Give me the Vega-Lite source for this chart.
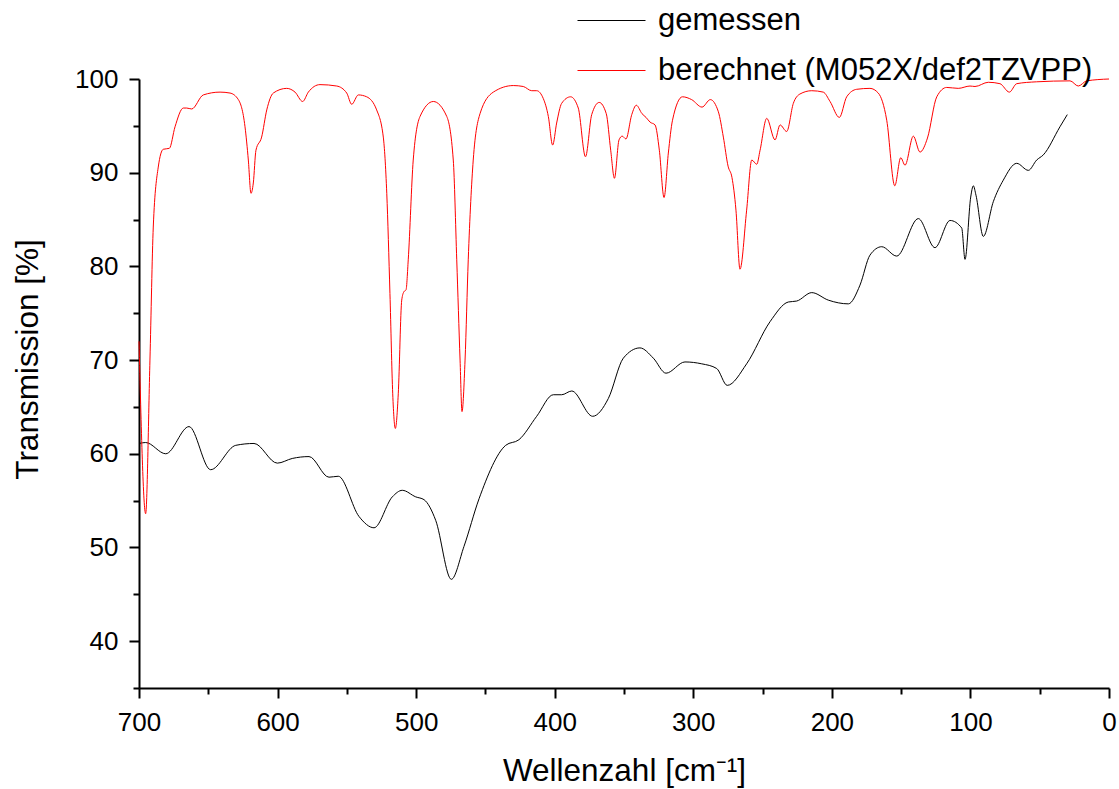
{
  "$schema": "https://vega.github.io/schema/vega-lite/v6.json",
  "autosize": "none",
  "width": 970,
  "height": 609,
  "padding": {"left": 139, "top": 79, "right": 10, "bottom": 101},
  "background": "white",
  "config": {
    "view": {"stroke": null},
    "font": "Liberation Sans",
    "axis": {
      "domainColor": "black", "domainWidth": 2, "tickColor": "black", "tickWidth": 2,
      "grid": false, "labelColor": "black", "titleColor": "black",
      "labelFont": "Liberation Sans", "labelFontSize": 26, "titleFont": "Liberation Sans",
      "titleFontSize": 31.5, "titleFontWeight": "normal", "labelPadding": 11
    }
  },
  "data": {"values": [
    {"x":700,"y":61.1,"s":"gemessen"},{"x":695.2,"y":61.2,"s":"gemessen"},{"x":680.7,"y":60.0,"s":"gemessen"},{"x":663.9,"y":62.9,"s":"gemessen"},{"x":648.3,"y":58.3,"s":"gemessen"},{"x":630.2,"y":60.9,"s":"gemessen"},{"x":617.0,"y":61.1,"s":"gemessen"},{"x":600.2,"y":59.0,"s":"gemessen"},{"x":589.4,"y":59.5,"s":"gemessen"},{"x":577.3,"y":59.7,"s":"gemessen"},{"x":562.9,"y":57.5,"s":"gemessen"},{"x":556.2,"y":57.6,"s":"gemessen"},{"x":541.2,"y":53.3,"s":"gemessen"},{"x":530.4,"y":52.1,"s":"gemessen"},{"x":517.2,"y":55.4,"s":"gemessen"},{"x":510.0,"y":56.1,"s":"gemessen"},{"x":500.3,"y":55.4,"s":"gemessen"},{"x":494.3,"y":55.1,"s":"gemessen"},{"x":485.9,"y":52.9,"s":"gemessen"},{"x":474.6,"y":46.6,"s":"gemessen"},{"x":465.5,"y":50.1,"s":"gemessen"},{"x":454.6,"y":55.2,"s":"gemessen"},{"x":435.4,"y":60.9,"s":"gemessen"},{"x":425.8,"y":61.5,"s":"gemessen"},{"x":413.0,"y":64.0,"s":"gemessen"},{"x":401.0,"y":66.3,"s":"gemessen"},{"x":395.0,"y":66.3,"s":"gemessen"},{"x":387.7,"y":66.7,"s":"gemessen"},{"x":372.6,"y":64.0,"s":"gemessen"},{"x":361.3,"y":65.9,"s":"gemessen"},{"x":350.5,"y":70.2,"s":"gemessen"},{"x":338.5,"y":71.3,"s":"gemessen"},{"x":328.8,"y":70.2,"s":"gemessen"},{"x":319.7,"y":68.6,"s":"gemessen"},{"x":306.0,"y":69.8,"s":"gemessen"},{"x":293.9,"y":69.6,"s":"gemessen"},{"x":283.1,"y":69.1,"s":"gemessen"},{"x":275.5,"y":67.3,"s":"gemessen"},{"x":261.5,"y":69.6,"s":"gemessen"},{"x":244.6,"y":74.1,"s":"gemessen"},{"x":231.4,"y":76.2,"s":"gemessen"},{"x":225.4,"y":76.3,"s":"gemessen"},{"x":214.5,"y":77.2,"s":"gemessen"},{"x":202.6,"y":76.4,"s":"gemessen"},{"x":188.1,"y":76.0,"s":"gemessen"},{"x":179.7,"y":78.0,"s":"gemessen"},{"x":172.5,"y":81.2,"s":"gemessen"},{"x":164.0,"y":82.1,"s":"gemessen"},{"x":153.2,"y":81.1,"s":"gemessen"},{"x":137.6,"y":85.1,"s":"gemessen"},{"x":125.6,"y":82.0,"s":"gemessen"},{"x":114.7,"y":84.9,"s":"gemessen"},{"x":106.3,"y":84.1,"s":"gemessen"},{"x":103.9,"y":80.75,"s":"gemessen"},{"x":99.8,"y":87.4,"s":"gemessen"},{"x":97.9,"y":88.6,"s":"gemessen"},{"x":96.0,"y":87.6,"s":"gemessen"},{"x":90.7,"y":83.2,"s":"gemessen"},{"x":83.5,"y":86.9,"s":"gemessen"},{"x":76.3,"y":89.2,"s":"gemessen"},{"x":66.6,"y":91.0,"s":"gemessen"},{"x":58.2,"y":90.25,"s":"gemessen"},{"x":52.2,"y":91.35,"s":"gemessen"},{"x":47.4,"y":91.9,"s":"gemessen"},{"x":35.4,"y":94.9,"s":"gemessen"},{"x":30.1,"y":96.2,"s":"gemessen"},
    {"x":700,"y":72.0,"s":"berechnet (M052X/def2TZVPP)"},{"x":695.2,"y":53.6,"s":"berechnet (M052X/def2TZVPP)"},{"x":692.1,"y":70.0,"s":"berechnet (M052X/def2TZVPP)"},{"x":689.7,"y":84.2,"s":"berechnet (M052X/def2TZVPP)"},{"x":686.1,"y":90.6,"s":"berechnet (M052X/def2TZVPP)"},{"x":682.5,"y":92.5,"s":"berechnet (M052X/def2TZVPP)"},{"x":678.1,"y":92.6,"s":"berechnet (M052X/def2TZVPP)"},{"x":674.0,"y":94.9,"s":"berechnet (M052X/def2TZVPP)"},{"x":668.0,"y":96.9,"s":"berechnet (M052X/def2TZVPP)"},{"x":665.6,"y":96.9,"s":"berechnet (M052X/def2TZVPP)"},{"x":662.0,"y":96.8,"s":"berechnet (M052X/def2TZVPP)"},{"x":653.6,"y":98.3,"s":"berechnet (M052X/def2TZVPP)"},{"x":641.5,"y":98.6,"s":"berechnet (M052X/def2TZVPP)"},{"x":634.3,"y":98.5,"s":"berechnet (M052X/def2TZVPP)"},{"x":628.3,"y":97.8,"s":"berechnet (M052X/def2TZVPP)"},{"x":623.5,"y":94.9,"s":"berechnet (M052X/def2TZVPP)"},{"x":621.1,"y":91.35,"s":"berechnet (M052X/def2TZVPP)"},{"x":619.2,"y":87.8,"s":"berechnet (M052X/def2TZVPP)"},{"x":617.5,"y":88.9,"s":"berechnet (M052X/def2TZVPP)"},{"x":615.6,"y":92.4,"s":"berechnet (M052X/def2TZVPP)"},{"x":611.5,"y":93.8,"s":"berechnet (M052X/def2TZVPP)"},{"x":607.8,"y":96.7,"s":"berechnet (M052X/def2TZVPP)"},{"x":603.1,"y":98.5,"s":"berechnet (M052X/def2TZVPP)"},{"x":593.4,"y":99.0,"s":"berechnet (M052X/def2TZVPP)"},{"x":587.4,"y":98.6,"s":"berechnet (M052X/def2TZVPP)"},{"x":581.9,"y":97.6,"s":"berechnet (M052X/def2TZVPP)"},{"x":577.8,"y":98.6,"s":"berechnet (M052X/def2TZVPP)"},{"x":569.4,"y":99.4,"s":"berechnet (M052X/def2TZVPP)"},{"x":557.3,"y":99.25,"s":"berechnet (M052X/def2TZVPP)"},{"x":550.1,"y":98.5,"s":"berechnet (M052X/def2TZVPP)"},{"x":546.5,"y":97.3,"s":"berechnet (M052X/def2TZVPP)"},{"x":541.7,"y":98.3,"s":"berechnet (M052X/def2TZVPP)"},{"x":535.7,"y":98.1,"s":"berechnet (M052X/def2TZVPP)"},{"x":528.5,"y":96.7,"s":"berechnet (M052X/def2TZVPP)"},{"x":523.7,"y":93.8,"s":"berechnet (M052X/def2TZVPP)"},{"x":521.2,"y":87.8,"s":"berechnet (M052X/def2TZVPP)"},{"x":518.9,"y":77.1,"s":"berechnet (M052X/def2TZVPP)"},{"x":516.9,"y":66.4,"s":"berechnet (M052X/def2TZVPP)"},{"x":515.0,"y":62.7,"s":"berechnet (M052X/def2TZVPP)"},{"x":512.9,"y":66.4,"s":"berechnet (M052X/def2TZVPP)"},{"x":510.4,"y":76.4,"s":"berechnet (M052X/def2TZVPP)"},{"x":508.8,"y":77.3,"s":"berechnet (M052X/def2TZVPP)"},{"x":507.3,"y":77.5,"s":"berechnet (M052X/def2TZVPP)"},{"x":505.7,"y":80.7,"s":"berechnet (M052X/def2TZVPP)"},{"x":502.1,"y":91.35,"s":"berechnet (M052X/def2TZVPP)"},{"x":497.2,"y":96.0,"s":"berechnet (M052X/def2TZVPP)"},{"x":487.6,"y":97.6,"s":"berechnet (M052X/def2TZVPP)"},{"x":477.9,"y":96.0,"s":"berechnet (M052X/def2TZVPP)"},{"x":473.2,"y":91.35,"s":"berechnet (M052X/def2TZVPP)"},{"x":470.7,"y":80.7,"s":"berechnet (M052X/def2TZVPP)"},{"x":468.3,"y":70.0,"s":"berechnet (M052X/def2TZVPP)"},{"x":466.9,"y":64.5,"s":"berechnet (M052X/def2TZVPP)"},{"x":464.7,"y":70.0,"s":"berechnet (M052X/def2TZVPP)"},{"x":462.4,"y":80.7,"s":"berechnet (M052X/def2TZVPP)"},{"x":458.8,"y":91.35,"s":"berechnet (M052X/def2TZVPP)"},{"x":453.9,"y":96.3,"s":"berechnet (M052X/def2TZVPP)"},{"x":444.3,"y":98.6,"s":"berechnet (M052X/def2TZVPP)"},{"x":429.9,"y":99.3,"s":"berechnet (M052X/def2TZVPP)"},{"x":422.7,"y":99.2,"s":"berechnet (M052X/def2TZVPP)"},{"x":416.6,"y":98.75,"s":"berechnet (M052X/def2TZVPP)"},{"x":413.0,"y":98.75,"s":"berechnet (M052X/def2TZVPP)"},{"x":408.2,"y":97.9,"s":"berechnet (M052X/def2TZVPP)"},{"x":404.6,"y":96.0,"s":"berechnet (M052X/def2TZVPP)"},{"x":401.5,"y":92.95,"s":"berechnet (M052X/def2TZVPP)"},{"x":398.6,"y":95.3,"s":"berechnet (M052X/def2TZVPP)"},{"x":395.0,"y":97.4,"s":"berechnet (M052X/def2TZVPP)"},{"x":388.5,"y":98.1,"s":"berechnet (M052X/def2TZVPP)"},{"x":383.0,"y":96.9,"s":"berechnet (M052X/def2TZVPP)"},{"x":377.8,"y":91.7,"s":"berechnet (M052X/def2TZVPP)"},{"x":373.3,"y":96.2,"s":"berechnet (M052X/def2TZVPP)"},{"x":367.9,"y":97.5,"s":"berechnet (M052X/def2TZVPP)"},{"x":362.8,"y":96.3,"s":"berechnet (M052X/def2TZVPP)"},{"x":359.6,"y":92.4,"s":"berechnet (M052X/def2TZVPP)"},{"x":356.9,"y":89.4,"s":"berechnet (M052X/def2TZVPP)"},{"x":353.6,"y":93.5,"s":"berechnet (M052X/def2TZVPP)"},{"x":351.3,"y":93.9,"s":"berechnet (M052X/def2TZVPP)"},{"x":348.6,"y":93.6,"s":"berechnet (M052X/def2TZVPP)"},{"x":344.4,"y":96.2,"s":"berechnet (M052X/def2TZVPP)"},{"x":341.1,"y":97.2,"s":"berechnet (M052X/def2TZVPP)"},{"x":337.0,"y":96.3,"s":"berechnet (M052X/def2TZVPP)"},{"x":334.1,"y":95.9,"s":"berechnet (M052X/def2TZVPP)"},{"x":331.2,"y":95.4,"s":"berechnet (M052X/def2TZVPP)"},{"x":327.6,"y":95.1,"s":"berechnet (M052X/def2TZVPP)"},{"x":324.5,"y":92.4,"s":"berechnet (M052X/def2TZVPP)"},{"x":321.1,"y":87.35,"s":"berechnet (M052X/def2TZVPP)"},{"x":318.0,"y":92.1,"s":"berechnet (M052X/def2TZVPP)"},{"x":315.0,"y":95.6,"s":"berechnet (M052X/def2TZVPP)"},{"x":307.8,"y":98.1,"s":"berechnet (M052X/def2TZVPP)"},{"x":301.2,"y":97.8,"s":"berechnet (M052X/def2TZVPP)"},{"x":293.7,"y":97.0,"s":"berechnet (M052X/def2TZVPP)"},{"x":287.7,"y":97.8,"s":"berechnet (M052X/def2TZVPP)"},{"x":281.9,"y":96.5,"s":"berechnet (M052X/def2TZVPP)"},{"x":278.3,"y":93.8,"s":"berechnet (M052X/def2TZVPP)"},{"x":274.9,"y":90.7,"s":"berechnet (M052X/def2TZVPP)"},{"x":272.1,"y":89.5,"s":"berechnet (M052X/def2TZVPP)"},{"x":269.2,"y":86.0,"s":"berechnet (M052X/def2TZVPP)"},{"x":266.3,"y":79.7,"s":"berechnet (M052X/def2TZVPP)"},{"x":261.5,"y":86.0,"s":"berechnet (M052X/def2TZVPP)"},{"x":257.8,"y":91.35,"s":"berechnet (M052X/def2TZVPP)"},{"x":254.2,"y":90.9,"s":"berechnet (M052X/def2TZVPP)"},{"x":251.8,"y":92.4,"s":"berechnet (M052X/def2TZVPP)"},{"x":247.0,"y":95.8,"s":"berechnet (M052X/def2TZVPP)"},{"x":241.0,"y":93.5,"s":"berechnet (M052X/def2TZVPP)"},{"x":237.4,"y":95.1,"s":"berechnet (M052X/def2TZVPP)"},{"x":232.6,"y":94.4,"s":"berechnet (M052X/def2TZVPP)"},{"x":227.8,"y":97.4,"s":"berechnet (M052X/def2TZVPP)"},{"x":223.0,"y":98.4,"s":"berechnet (M052X/def2TZVPP)"},{"x":214.5,"y":98.75,"s":"berechnet (M052X/def2TZVPP)"},{"x":206.2,"y":98.6,"s":"berechnet (M052X/def2TZVPP)"},{"x":201.3,"y":97.6,"s":"berechnet (M052X/def2TZVPP)"},{"x":194.6,"y":95.9,"s":"berechnet (M052X/def2TZVPP)"},{"x":189.3,"y":98.1,"s":"berechnet (M052X/def2TZVPP)"},{"x":182.1,"y":98.9,"s":"berechnet (M052X/def2TZVPP)"},{"x":172.5,"y":99.0,"s":"berechnet (M052X/def2TZVPP)"},{"x":166.5,"y":98.5,"s":"berechnet (M052X/def2TZVPP)"},{"x":160.4,"y":95.6,"s":"berechnet (M052X/def2TZVPP)"},{"x":154.6,"y":88.6,"s":"berechnet (M052X/def2TZVPP)"},{"x":150.3,"y":91.6,"s":"berechnet (M052X/def2TZVPP)"},{"x":147.2,"y":90.8,"s":"berechnet (M052X/def2TZVPP)"},{"x":141.2,"y":93.9,"s":"berechnet (M052X/def2TZVPP)"},{"x":136.4,"y":92.2,"s":"berechnet (M052X/def2TZVPP)"},{"x":131.0,"y":93.7,"s":"berechnet (M052X/def2TZVPP)"},{"x":124.3,"y":98.1,"s":"berechnet (M052X/def2TZVPP)"},{"x":117.1,"y":99.1,"s":"berechnet (M052X/def2TZVPP)"},{"x":108.8,"y":99.0,"s":"berechnet (M052X/def2TZVPP)"},{"x":100.3,"y":99.25,"s":"berechnet (M052X/def2TZVPP)"},{"x":96.7,"y":99.2,"s":"berechnet (M052X/def2TZVPP)"},{"x":87.1,"y":99.65,"s":"berechnet (M052X/def2TZVPP)"},{"x":78.7,"y":99.5,"s":"berechnet (M052X/def2TZVPP)"},{"x":71.9,"y":98.6,"s":"berechnet (M052X/def2TZVPP)"},{"x":66.6,"y":99.5,"s":"berechnet (M052X/def2TZVPP)"},{"x":52.2,"y":99.7,"s":"berechnet (M052X/def2TZVPP)"},{"x":28.1,"y":99.8,"s":"berechnet (M052X/def2TZVPP)"},{"x":22.2,"y":99.25,"s":"berechnet (M052X/def2TZVPP)"},{"x":16.1,"y":99.8,"s":"berechnet (M052X/def2TZVPP)"},{"x":0,"y":100,"s":"berechnet (M052X/def2TZVPP)"}
  ]},
  "mark": {"type": "line", "interpolate": "monotone", "strokeWidth": 1},
  "encoding": {
    "x": {
      "field": "x", "type": "quantitative",
      "scale": {"domain": [700, 0], "nice": false, "zero": false},
      "axis": {
        "title": "Wellenzahl [cm⁻¹]",
        "values": [700,650,600,550,500,450,400,350,300,250,200,150,100,50,0],
        "labelExpr": "datum.value % 100 === 0 ? datum.label : ''",
        "tickSize": {"condition": {"test": "datum.value % 100 === 0", "value": 10}, "value": 6},
        "labelFlush": false, "labelOverlap": false,
        "titleBaseline": "alphabetic", "titleY": 92
      }
    },
    "y": {
      "field": "y", "type": "quantitative",
      "scale": {"domain": [35, 100], "nice": false, "zero": false},
      "axis": {
        "title": "Transmission [%]",
        "values": [35,40,45,50,55,60,65,70,75,80,85,90,95,100],
        "labelExpr": "datum.value % 10 === 0 ? datum.label : ''",
        "tickSize": {"condition": {"test": "datum.value % 10 === 0", "value": 10}, "value": 6},
        "labelFlush": false, "labelOverlap": false,
        "titleBaseline": "alphabetic", "titleX": -102, "titleY": 280
      }
    },
    "color": {
      "field": "s", "type": "nominal",
      "scale": {"domain": ["gemessen", "berechnet (M052X/def2TZVPP)"], "range": ["#000000", "#ff0000"]},
      "legend": {
        "title": null, "orient": "none", "legendX": 438, "legendY": -93,
        "symbolType": "stroke", "symbolSize": 4624, "symbolStrokeWidth": 1,
        "labelFontSize": 31, "labelFont": "Liberation Sans",
        "labelColor": "black", "labelOffset": 12, "rowPadding": -30, "padding": 0, "labelLimit": 0
      }
    },
    "order": {"field": "x", "type": "quantitative", "sort": "descending"}
  }
}
